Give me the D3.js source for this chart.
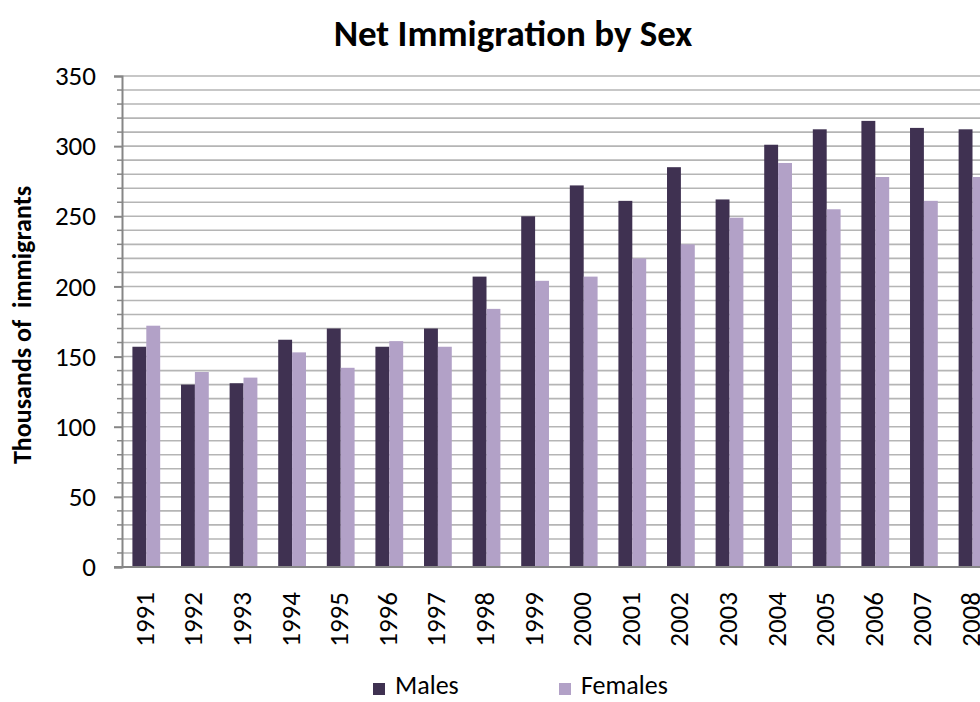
<!DOCTYPE html>
<html><head><meta charset="utf-8">
<script src="https://cdn.jsdelivr.net/npm/d3@7"></script>
<style>html,body{margin:0;padding:0;background:#fff;overflow:hidden}</style>
</head><body>
<svg id="c" width="980" height="702"></svg>
<script>
const years = ["1991","1992","1993","1994","1995","1996","1997","1998","1999","2000","2001","2002","2003","2004","2005","2006","2007","2008"];
const males = [157,130,131,162,170,157,170,207,250,272,261,285,262,301,312,318,313,312];
const females = [172,139,135,153,142,161,157,184,204,207,220,230,249,288,255,278,261,278];
const seriesNames = ["Males","Females"];
const seriesColors = ["#3f3151","#b2a1c7"];
const yTicks = [0,50,100,150,200,250,300,350];

(function(){
const font = "Calibri, Carlito, Lato, 'Open Sans', sans-serif";
const svg = d3.select("#c");
const left = 122, plotTop = 76, bottom = 567, band = 48.6;
const x = d3.scaleBand().domain(years).range([left, left + band*years.length]).paddingInner(0).paddingOuter(0);
const y = d3.scaleLinear().domain([0,350]).range([bottom, plotTop]);
const barW = band/3.5;

const minor = d3.range(10, 351, 10);
svg.append("g").selectAll("line").data(minor).join("line")
  .attr("x1", left).attr("x2", 980).attr("y1", d=>y(d)).attr("y2", d=>y(d))
  .attr("stroke", "#b5b5b5").attr("stroke-width", 1.6);

const data = years.map((yr,i)=>({yr, vals:[males[i], females[i]]}));
const g = svg.append("g");
data.forEach(d=>{
  d.vals.forEach((v,j)=>{
    const x0 = x(d.yr) + (band - 2*barW)/2 + j*barW;
    g.append("rect").attr("x", x0).attr("width", barW)
      .attr("y", y(v)).attr("height", y(0)-y(v)).attr("fill", seriesColors[j]);
  });
});

const yAxis = svg.append("g").attr("transform", `translate(${left},0)`)
  .call(d3.axisLeft(y).tickValues(yTicks).tickSize(8).tickPadding(18));
yAxis.select(".domain").attr("stroke", "#868686").attr("stroke-width", 2);
yAxis.selectAll(".tick line").attr("stroke", "#868686").attr("stroke-width", 2);
yAxis.selectAll("text").attr("font-family", font).attr("font-size", 27).attr("fill", "#000");
svg.append("g").selectAll("line").data(minor.filter(d=>d%50)).join("line")
  .attr("x1", left-5).attr("x2", left).attr("y1", d=>y(d)).attr("y2", d=>y(d))
  .attr("stroke", "#868686").attr("stroke-width", 1.5);

const xAxis = svg.append("g").attr("transform", `translate(0,${bottom})`)
  .call(d3.axisBottom(x).tickSize(0).tickPadding(0));
xAxis.select(".domain").attr("d", `M${left-8},0H980`).attr("stroke", "#868686").attr("stroke-width", 2);
xAxis.selectAll("text").attr("font-family", font).attr("font-size", 27).attr("fill", "#000")
  .attr("text-anchor", "end").attr("dy", "0.35em")
  .attr("transform", "translate(-2,25) rotate(-90)").attr("y", 0).attr("x", 0);

svg.append("text").attr("x", 513).attr("y", 46).attr("text-anchor", "middle")
  .attr("font-family", font).attr("font-weight", "bold").attr("font-size", 37).text("Net Immigration by Sex");

svg.append("text").attr("transform", "translate(31,325) rotate(-90)").attr("text-anchor", "middle")
  .attr("font-family", font).attr("font-weight", "bold").attr("font-size", 26)
  .style("white-space","pre").text("Thousands of  immigrants");

const legX = [373, 559];
seriesNames.forEach((n,i)=>{
  svg.append("rect").attr("x", legX[i]).attr("y", 683).attr("width", 12).attr("height", 12).attr("fill", seriesColors[i]);
  svg.append("text").attr("x", legX[i]+22).attr("y", 694).attr("font-family", font).attr("font-size", 26).text(n);
});
})();
</script>
</body></html>
